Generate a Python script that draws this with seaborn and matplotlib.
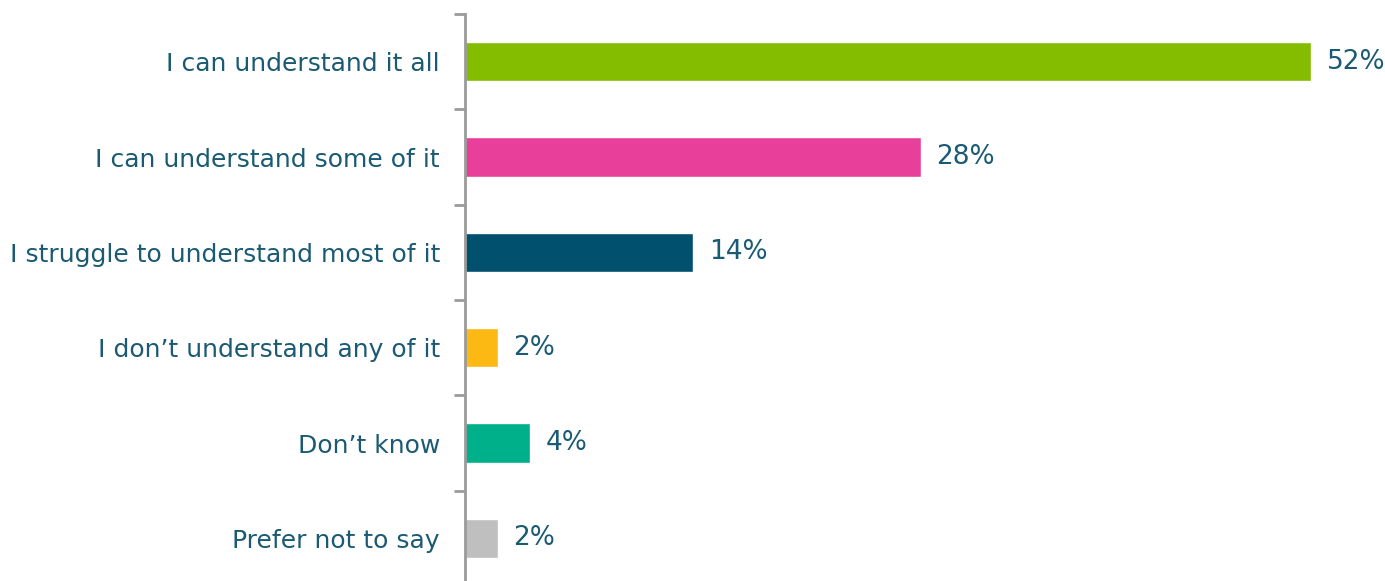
import matplotlib
matplotlib.use("Agg")
import matplotlib.pyplot as plt
import seaborn as sns
import pandas as pd
import numpy as np

categories = ["I can understand it all", "I can understand some of it",
              "I struggle to understand most of it", "I don\u2019t understand any of it",
              "Don\u2019t know", "Prefer not to say"]
values = [52, 28, 14, 2, 4, 2]
value_labels = ["52%", "28%", "14%", "2%", "4%", "2%"]
colors = ["#84BD00", "#E8409A", "#00506E", "#FDB913", "#00B08B", "#BFBFBF"]

sns.set_theme(style="white")
plt.rcParams['font.family'] = ['DejaVu Sans']
text_color = "#1A5A73"

df = pd.DataFrame({"cat": categories, "val": values})
fig = plt.figure(figsize=(13.85, 5.81), dpi=100)
ax = fig.add_axes([465/1385, -5/581, 1 - 465/1385, 572/581])
sns.barplot(data=df, y="cat", x="val", hue="cat", palette=colors, legend=False,
            width=0.41, ax=ax, saturation=1, orient="h")

ax.set_xlim(0, (1385 - 465) / 16.27)
ax.set_ylim(len(categories) - 0.5, -0.5)
for s in ["top", "right", "bottom"]:
    ax.spines[s].set_visible(False)
ax.spines["left"].set_color("#9A9A9A")
ax.spines["left"].set_linewidth(2)
ax.set_xticks([])
ax.set_xlabel("")
ax.set_ylabel("")
ax.set_yticks(np.arange(-0.5, len(categories), 1), minor=True)
ax.tick_params(axis="y", which="major", left=True, length=0, pad=18, labelsize=18, labelcolor=text_color)
ax.tick_params(axis="y", which="minor", left=True, length=8, width=2, color="#9A9A9A", direction="out")

for i, (v, lab) in enumerate(zip(values, value_labels)):
    ax.annotate(lab, xy=(v, i), xytext=(16, 0), textcoords="offset pixels",
                va="center", ha="left", fontsize=19, color=text_color)

fig.savefig("out.png", dpi=100)
